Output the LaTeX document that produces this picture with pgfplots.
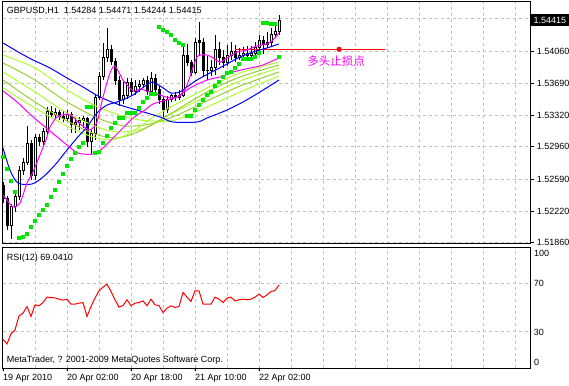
\documentclass[border=0pt]{standalone}
\usepackage{fontspec}
\setmainfont{Liberation Sans}
\newfontfamily\cjk{Noto Sans CJK SC}
\usepackage{pgfplots}
\pgfplotsset{compat=1.18}

\definecolor{gridc}{RGB}{192,192,192}
\definecolor{sarc}{RGB}{0,230,0}
\definecolor{gyA}{RGB}{173,255,47}
\definecolor{gyB}{RGB}{154,205,50}
\definecolor{mtblue}{RGB}{0,0,255}
\definecolor{mtmag}{RGB}{255,0,255}
\definecolor{mtred}{RGB}{255,0,0}

\newcommand{\lab}{\fontsize{9}{10}\selectfont}
% \cndl{fill}{x-left}{x}{x-right}{low}{body low}{body high}{high}
\newcommand{\cndl}[8]{%
  \addplot[black, line width=1pt] coordinates {(#3,#5) (#3,#8)};
  \addplot[draw=black, fill=#1, line width=1pt] coordinates {(#2,#6) (#4,#6) (#4,#7) (#2,#7)} -- cycle;
}

\begin{document}
\begin{tikzpicture}[x=1pt,y=1pt]
\path[use as bounding box] (0,0) rectangle (569,385);

% ---------------- price panel ----------------
\begin{axis}[
  at={(2.5pt,141pt)}, anchor=south west, scale only axis,
  width=528.2pt, height=242pt,
  xmin=-0.125, xmax=131.925, ymin=1.518451, ymax=1.546225,
  clip mode=individual,
  axis line style={black, line width=1pt},
  xtick={8,16,...,128}, xticklabels={}, xtick style={draw=none},
  ytick={1.51860,1.52220,1.52590,1.52960,1.53320,1.53690,1.54060,1.54430},
  yticklabels={1.51860,1.52220,1.52590,1.52960,1.53320,1.53690,1.54060,},
  ytick pos=right, yticklabel pos=right,
  tick align=outside, major tick length=3pt,
  ytick style={black, line width=1pt},
  yticklabel style={font=\lab, anchor=west, inner xsep=3pt},
  xmajorgrids, ymajorgrids,
  grid style={gridc, dash pattern=on 3pt off 3pt, line width=1pt},
]
% candles: fill, x-0.25, x, x+0.25, low, body low, body high, high
\cndl{black}{-0.25}{0}{0.25}{1.52316}{1.52362}{1.52511}{1.52557}
\cndl{black}{0.75}{1}{1.25}{1.52006}{1.52052}{1.52362}{1.52396}
\cndl{white}{1.75}{2}{2.25}{1.51903}{1.52052}{1.52270}{1.52304}
\cndl{white}{2.75}{3}{3.25}{1.52212}{1.52270}{1.52385}{1.52442}
\cndl{white}{3.75}{4}{4.25}{1.52350}{1.52385}{1.52694}{1.52740}
\cndl{white}{4.75}{5}{5.25}{1.52637}{1.52694}{1.52786}{1.52832}
\cndl{white}{5.75}{6}{6.25}{1.52752}{1.52786}{1.53004}{1.53199}
\cndl{black}{6.75}{7}{7.25}{1.52580}{1.52626}{1.53004}{1.53039}
\cndl{white}{7.75}{8}{8.25}{1.52580}{1.52626}{1.53062}{1.53108}
\cndl{black}{8.75}{9}{9.25}{1.52970}{1.53016}{1.53062}{1.53108}
\cndl{white}{9.75}{10}{10.25}{1.52970}{1.53016}{1.53131}{1.53176}
\cndl{white}{10.75}{11}{11.25}{1.53096}{1.53131}{1.53360}{1.53417}
\cndl{black}{11.75}{12}{12.25}{1.53291}{1.53337}{1.53360}{1.53429}
\cndl{white}{12.75}{13}{13.25}{1.53291}{1.53337}{1.53349}{1.53406}
\cndl{black}{13.75}{14}{14.25}{1.53268}{1.53303}{1.53349}{1.53383}
\cndl{black}{14.75}{15}{15.25}{1.53245}{1.53291}{1.53303}{1.53372}
\cndl{white}{15.75}{16}{16.25}{1.53257}{1.53291}{1.53326}{1.53383}
\cndl{black}{16.75}{17}{17.25}{1.53119}{1.53222}{1.53326}{1.53360}
\cndl{white}{17.75}{18}{18.25}{1.53119}{1.53222}{1.53234}{1.53291}
\cndl{white}{18.75}{19}{19.25}{1.53154}{1.53234}{1.53257}{1.53303}
\cndl{white}{19.75}{20}{20.25}{1.53176}{1.53257}{1.53280}{1.53314}
\cndl{black}{20.75}{21}{21.25}{1.52958}{1.53016}{1.53280}{1.53303}
\cndl{white}{21.75}{22}{22.25}{1.52878}{1.53016}{1.53108}{1.53154}
\cndl{white}{22.75}{23}{23.25}{1.53039}{1.53108}{1.53532}{1.53567}
\cndl{white}{23.75}{24}{24.25}{1.53498}{1.53532}{1.53773}{1.53819}
\cndl{white}{24.75}{25}{25.25}{1.53727}{1.53773}{1.53991}{1.54152}
\cndl{white}{25.75}{26}{26.25}{1.53934}{1.53991}{1.54072}{1.54324}
\cndl{black}{26.75}{27}{27.25}{1.53900}{1.53934}{1.54072}{1.54129}
\cndl{black}{27.75}{28}{28.25}{1.53670}{1.53727}{1.53934}{1.53980}
\cndl{black}{28.75}{29}{29.25}{1.53429}{1.53498}{1.53727}{1.53773}
\cndl{white}{29.75}{30}{30.25}{1.53452}{1.53498}{1.53544}{1.53704}
\cndl{white}{30.75}{31}{31.25}{1.53509}{1.53544}{1.53704}{1.53750}
\cndl{black}{31.75}{32}{32.25}{1.53544}{1.53590}{1.53704}{1.53750}
\cndl{white}{32.75}{33}{33.25}{1.53555}{1.53590}{1.53658}{1.53727}
\cndl{white}{33.75}{34}{34.25}{1.53590}{1.53658}{1.53681}{1.53727}
\cndl{white}{34.75}{35}{35.25}{1.53636}{1.53681}{1.53727}{1.53750}
\cndl{black}{35.75}{36}{36.25}{1.53555}{1.53590}{1.53727}{1.53773}
\cndl{white}{36.75}{37}{37.25}{1.53567}{1.53590}{1.53750}{1.53819}
\cndl{black}{37.75}{38}{38.25}{1.53567}{1.53613}{1.53750}{1.53796}
\cndl{black}{38.75}{39}{39.25}{1.53452}{1.53498}{1.53613}{1.53658}
\cndl{black}{39.75}{40}{40.25}{1.53303}{1.53383}{1.53498}{1.53544}
\cndl{white}{40.75}{41}{41.25}{1.53349}{1.53383}{1.53498}{1.53544}
\cndl{white}{41.75}{42}{42.25}{1.53475}{1.53498}{1.53544}{1.53567}
\cndl{black}{42.75}{43}{43.25}{1.53486}{1.53521}{1.53544}{1.53590}
\cndl{white}{43.75}{44}{44.25}{1.53498}{1.53521}{1.53555}{1.53613}
\cndl{white}{44.75}{45}{45.25}{1.53532}{1.53555}{1.54003}{1.54106}
\cndl{black}{45.75}{46}{46.25}{1.53888}{1.53923}{1.54003}{1.54141}
\cndl{black}{46.75}{47}{47.25}{1.53773}{1.53819}{1.53923}{1.53957}
\cndl{white}{47.75}{48}{48.25}{1.53796}{1.53819}{1.54163}{1.54209}
\cndl{black}{48.75}{49}{49.25}{1.54003}{1.54152}{1.54186}{1.54393}
\cndl{black}{49.75}{50}{50.25}{1.53773}{1.53842}{1.54152}{1.54209}
\cndl{black}{50.75}{51}{51.25}{1.53727}{1.53831}{1.53842}{1.54003}
\cndl{white}{51.75}{52}{52.25}{1.53773}{1.53831}{1.53865}{1.53957}
\cndl{white}{52.75}{53}{53.25}{1.53785}{1.53865}{1.54072}{1.54244}
\cndl{black}{53.75}{54}{54.25}{1.53900}{1.53980}{1.54072}{1.54163}
\cndl{black}{54.75}{55}{55.25}{1.53865}{1.53923}{1.53980}{1.54072}
\cndl{white}{55.75}{56}{56.25}{1.53888}{1.53923}{1.54014}{1.54129}
\cndl{white}{56.75}{57}{57.25}{1.53957}{1.54014}{1.54049}{1.54163}
\cndl{black}{57.75}{58}{58.25}{1.53934}{1.53991}{1.54049}{1.54129}
\cndl{white}{58.75}{59}{59.25}{1.53957}{1.53991}{1.54014}{1.54095}
\cndl{white}{59.75}{60}{60.25}{1.53980}{1.54014}{1.54026}{1.54106}
\cndl{black}{60.75}{61}{61.25}{1.53968}{1.54014}{1.54026}{1.54118}
\cndl{white}{61.75}{62}{62.25}{1.53980}{1.54014}{1.54037}{1.54118}
\cndl{white}{62.75}{63}{63.25}{1.54003}{1.54037}{1.54095}{1.54163}
\cndl{white}{63.75}{64}{64.25}{1.54049}{1.54095}{1.54186}{1.54244}
\cndl{black}{64.75}{65}{65.25}{1.54026}{1.54129}{1.54186}{1.54232}
\cndl{white}{65.75}{66}{66.25}{1.54095}{1.54129}{1.54163}{1.54278}
\cndl{white}{66.75}{67}{67.25}{1.54118}{1.54163}{1.54255}{1.54324}
\cndl{white}{67.75}{68}{68.25}{1.54209}{1.54255}{1.54284}{1.54347}
\cndl{white}{68.75}{69}{69.25}{1.54244}{1.54284}{1.54415}{1.54471}

% stop-loss line
\addplot[mtred, line width=1pt] coordinates {(58,1.54080) (95.5,1.54080)};
\addplot[only marks, mark=*, mark size=2.3pt, mtred] coordinates {(84,1.54080)};

% yellow-green MA bundle
\addplot[gyA, line width=1pt, smooth, tension=0.5] coordinates {(0,1.54014) (8,1.53865) (16,1.53613) (24.25,1.53406) (31.75,1.53291) (36.75,1.53257) (43,1.53268) (51,1.53417) (59.25,1.53590) (69,1.53773)};
\addplot[gyB, line width=1pt, smooth, tension=0.5] coordinates {(0,1.53923) (8,1.53727) (16,1.53475) (24.25,1.53280) (30.5,1.53199) (36.75,1.53222) (43,1.53314) (51,1.53486) (59.25,1.53658) (69,1.53819)};
\addplot[gyA, line width=1pt, smooth, tension=0.5] coordinates {(0,1.53819) (8,1.53590) (16,1.53349) (24.25,1.53176) (29.25,1.53131) (35.5,1.53176) (43,1.53360) (51,1.53544) (59.25,1.53716) (69,1.53865)};
\addplot[gyB, line width=1pt, smooth, tension=0.5] coordinates {(0,1.53727) (8,1.53475) (16,1.53257) (23,1.53108) (28.5,1.53062) (34.25,1.53142) (41.75,1.53337) (51,1.53590) (59.25,1.53762) (69,1.53900)};
\addplot[gyA, line width=1pt, smooth, tension=0.5] coordinates {(0,1.53636) (8,1.53406) (16,1.53199) (21.75,1.53085) (26.75,1.53039) (31.75,1.53119) (39.25,1.53349) (51,1.53636) (59.25,1.53808) (69,1.53934)};

% slow blue
\addplot[mtblue, line width=1pt, smooth, tension=0.5] coordinates {(0,1.54152) (4.25,1.54037) (7.5,1.53957) (11.75,1.53865) (16,1.53750) (20,1.53647) (24.25,1.53532) (29.25,1.53440) (34.25,1.53372) (39.25,1.53303) (42.5,1.53245) (48.5,1.53245) (51,1.53291) (56,1.53383) (60,1.53475) (64.25,1.53590) (69,1.53727)};
% fast blue
\addplot[mtblue, line width=1pt, smooth, tension=0.5] coordinates {(0,1.52947) (1.75,1.52694) (3.75,1.52545) (7.25,1.52534) (10,1.52614) (13,1.52752) (16,1.52924) (18.5,1.53062) (21,1.53188) (23.5,1.53349) (26,1.53440) (28.5,1.53475) (32.5,1.53555) (35.5,1.53658) (37.5,1.53704) (40,1.53636) (42,1.53578) (44.25,1.53590) (46,1.53647) (48.5,1.53727) (51.75,1.53808) (56,1.53911) (59.25,1.53991) (62.5,1.54049) (66,1.54095) (69,1.54141)};
% medium magenta
\addplot[mtmag, line width=1pt, smooth, tension=0.5] coordinates {(0,1.53601) (3.5,1.53475) (7.5,1.53303) (11.75,1.53142) (16,1.52981) (18.75,1.52889) (22.5,1.52878) (25,1.52947) (27.5,1.53062) (30,1.53176) (32.5,1.53291) (35.5,1.53383) (37.5,1.53452) (41,1.53498) (43.5,1.53532) (46.75,1.53636) (51,1.53727) (54.25,1.53762) (57.5,1.53819) (61.75,1.53865) (65,1.53900) (69,1.53980)};
% fast magenta
\addplot[mtmag, line width=1pt, smooth, tension=0.4] coordinates {(0,1.52408) (2.5,1.52270) (4.25,1.52316) (6,1.52545) (7.5,1.52672) (9.75,1.52924) (11,1.53073) (11.75,1.53188) (13.5,1.53303) (16,1.53337) (17.5,1.53303) (19.25,1.53222) (21.75,1.53154) (23.5,1.53245) (25,1.53532) (26.75,1.53808) (28,1.53888) (30,1.53727) (32.5,1.53601) (34.25,1.53624) (36.75,1.53590) (39.25,1.53555) (41.75,1.53521) (44.25,1.53544) (46,1.53670) (48.5,1.53991) (51,1.54014) (52.5,1.53980) (54.25,1.53934) (56,1.53980) (58.5,1.54049) (61,1.54072) (63.5,1.54118) (66,1.54141) (67.5,1.54186) (69,1.54267)};

% parabolic SAR
\addplot[only marks, mark=square*, mark size=1.6pt, sarc] table {
i sar
0 1.52844
1 1.52706
2 1.52568
3 1.52442
4 1.51914
5 1.51926
6 1.51960
7 1.52040
8 1.52109
9 1.52178
10 1.52235
11 1.52293
12 1.52385
13 1.52465
14 1.52557
15 1.52649
16 1.52740
17 1.52821
18 1.52889
19 1.52958
20 1.53004
21 1.53417
22 1.53417
23 1.52889
24 1.52901
25 1.53004
26 1.53085
27 1.53176
28 1.53234
29 1.53291
30 1.53291
31 1.53349
32 1.53349
33 1.53349
34 1.53406
35 1.53475
36 1.53521
37 1.53567
38 1.53567
39 1.54336
40 1.54301
41 1.54278
42 1.54244
43 1.54186
44 1.54152
45 1.54129
46 1.53314
47 1.53314
48 1.53383
49 1.53440
50 1.53498
51 1.53555
52 1.53590
53 1.53658
54 1.53704
55 1.53762
56 1.53808
57 1.53819
58 1.53865
59 1.53911
60 1.53968
61 1.53968
62 1.53968
63 1.53991
64 1.54037
65 1.54382
66 1.54382
67 1.54370
68 1.54370
69 1.53991
};

\node[text=mtmag, font=\cjk\fontsize{11.5}{12}\selectfont] at (axis cs:83.25,1.53945) {多头止损点};
\node[anchor=base west, inner sep=0pt, font=\lab, xshift=4.2pt, yshift=-12pt] at (rel axis cs:0,1) {GBPUSD,H1\hspace{5pt}1.54284 1.54471 1.54244 1.54415};
\node[anchor=west, fill=black, text=white, font=\lab, minimum width=38pt, minimum height=11.5pt, inner sep=0pt] at (axis cs:131.925,1.54415) {1.54415};
\end{axis}

% ---------------- RSI panel ----------------
\begin{axis}[
  at={(2.5pt,17pt)}, anchor=south west, scale only axis,
  width=528.2pt, height=120.3pt,
  xmin=-0.125, xmax=131.925, ymin=0, ymax=100,
  clip mode=individual,
  axis line style={black, line width=1pt},
  xtick={8,16,...,128}, xticklabels={}, xtick style={draw=none},
  ytick={30,70}, yticklabels={30,70}, ytick style={draw=none},
  ytick pos=right, yticklabel pos=right,
  yticklabel style={font=\lab, anchor=west, inner xsep=3pt},
  xmajorgrids, ymajorgrids,
  grid style={gridc, dash pattern=on 3pt off 3pt, line width=1pt},
]
\addplot[mtred, line width=1pt] table {
i rsi
0 23.9
1 20.0
2 28.3
3 31.7
4 43.3
5 45.6
6 51.1
7 42.8
8 52.5
9 51.7
10 54.4
11 58.9
12 58.6
13 58.3
14 57.2
15 56.4
16 57.2
17 53.1
18 53.1
19 53.9
20 54.4
21 42.8
22 51.1
23 58.1
24 64.2
25 67.2
26 69.7
27 63.6
28 56.7
29 50.6
30 51.9
31 56.7
32 51.7
33 53.9
34 54.4
35 55.8
36 51.7
37 57.2
38 52.5
39 51.9
40 46.1
41 49.7
42 51.7
43 50.3
44 51.1
45 62.8
46 58.9
47 55.3
48 64.2
49 64.2
50 53.1
51 53.1
52 53.1
53 58.9
54 57.2
55 54.4
56 58.1
57 58.9
58 55.8
59 56.7
60 57.2
61 56.7
62 57.2
63 58.9
64 61.4
65 58.6
66 60.8
67 63.6
68 64.4
69 69.04
};
\node[anchor=base west, inner sep=0pt, font=\lab, xshift=4.2pt, yshift=-12.9pt] at (rel axis cs:0,1) {RSI(12) 69.0410};
\node[anchor=base west, inner sep=0pt, font=\lab, xshift=4.2pt, yshift=5.4pt] at (rel axis cs:0,0) {MetaTrader, ? 2001-2009 MetaQuotes Software Corp.};
\node[anchor=north west, inner sep=0pt, font=\lab, xshift=3.3pt, yshift=-2.5pt] at (rel axis cs:1,1) {100};
\node[anchor=south west, inner sep=0pt, font=\lab, xshift=3.3pt, yshift=2pt] at (rel axis cs:1,0) {0};
\foreach \t/\l in {0/19 Apr 2010, 16/20 Apr 02:00, 32/20 Apr 18:00, 48/21 Apr 10:00, 64/22 Apr 02:00}{
  \edef\temp{\noexpand\draw[black, line width=1pt] (axis cs:\t,0) -- ++(0,-3pt);
  \noexpand\node[anchor=base west, inner sep=0pt, font=\noexpand\lab, yshift=-12.3pt] at (axis cs:\t,0) {\l};}
  \temp
}
\end{axis}
\end{tikzpicture}
\end{document}
